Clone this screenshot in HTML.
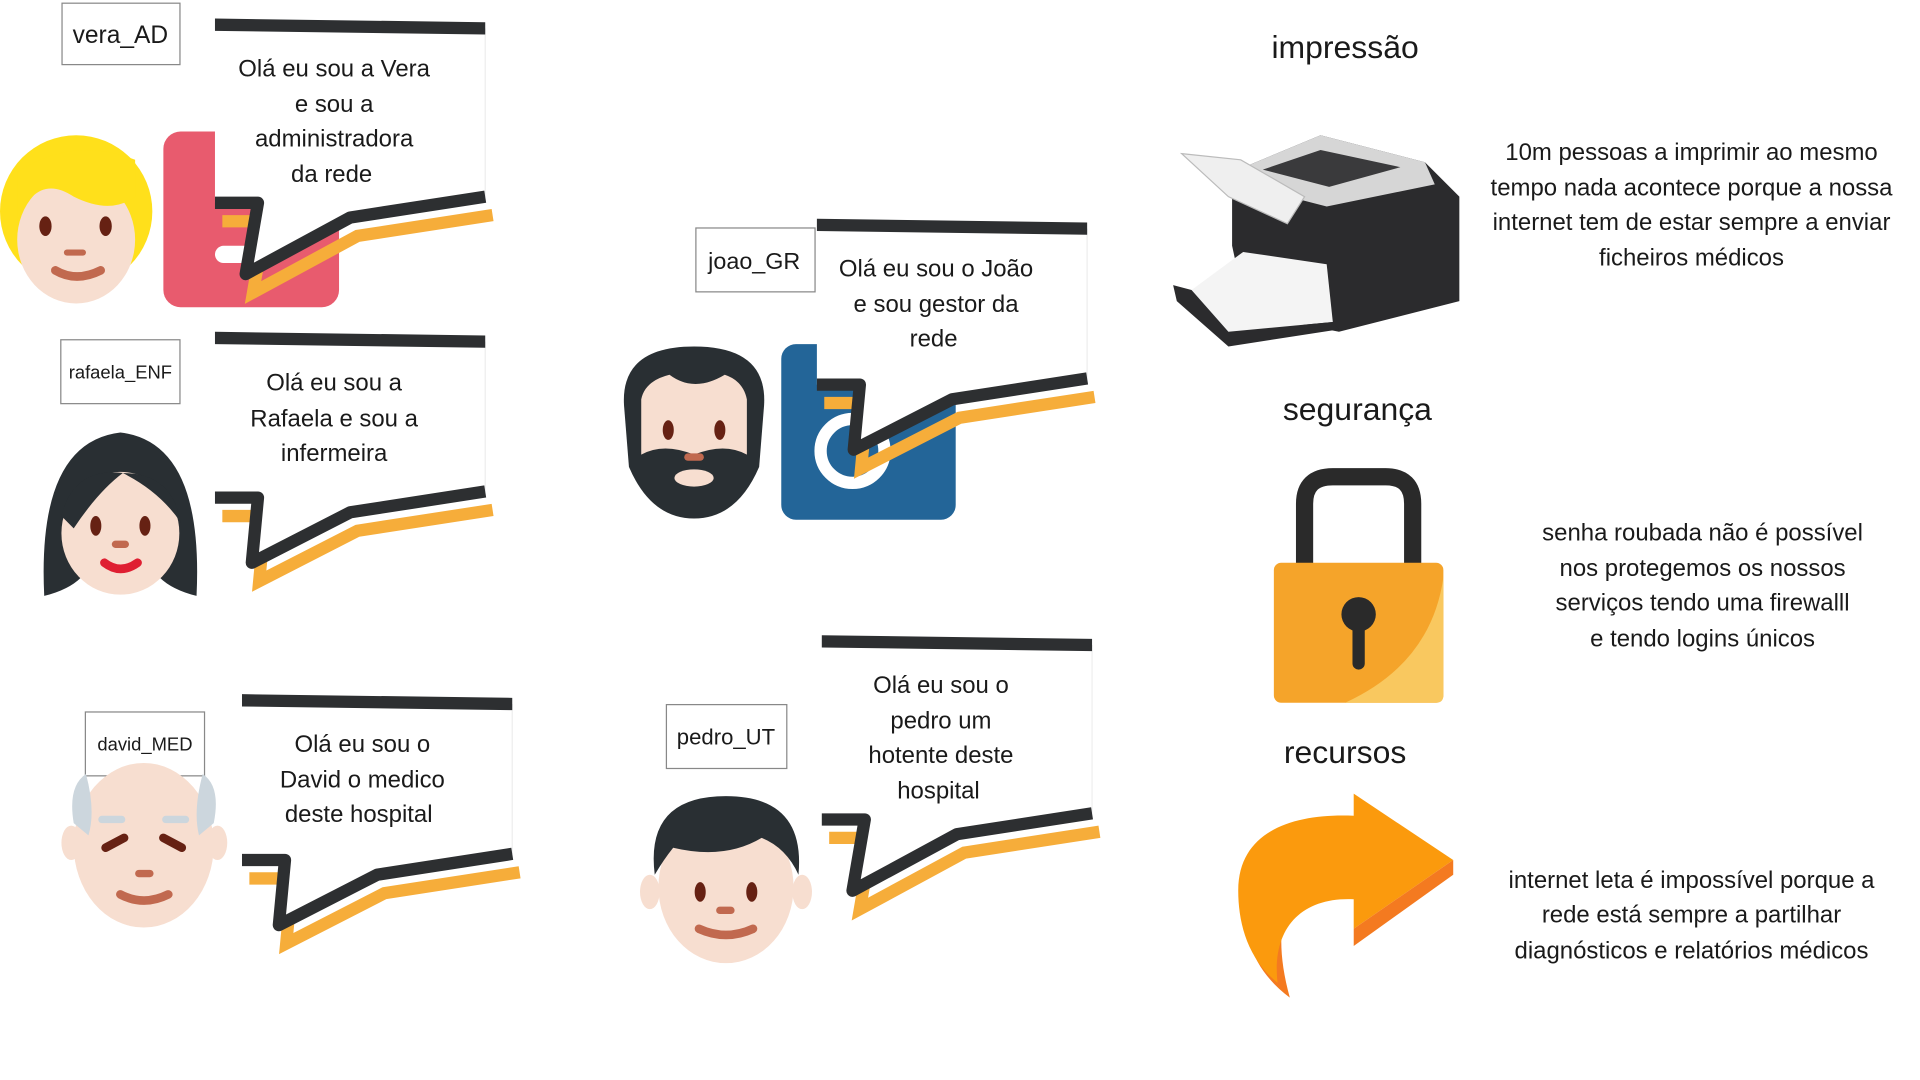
<!DOCTYPE html>
<html><head><meta charset="utf-8"><style>
html,body{margin:0;padding:0;background:#fff;width:1920px;height:1080px;overflow:hidden}
svg{display:block}
text{font-family:"Liberation Sans",sans-serif;fill:#1a1a1a}
</style></head><body>
<svg width="1920" height="1080" viewBox="0 0 1563 879" xmlns="http://www.w3.org/2000/svg">
<defs>
<g id="bub150">
  <polyline points="0,156 35,156 25,214 110,168 220,151" fill="none" stroke="#f6ad3a" stroke-width="10" transform="translate(6,9)"/>
  <polygon points="0,8 220,8 220,145 110,162 25,208 35,150 0,150" fill="#fff"/>
  <line x1="220" y1="8" x2="220" y2="145" stroke="#eee" stroke-width="1"/>
  <polyline points="0,150 35,150 25,208 110,162 220,145" fill="none" stroke="#2d2f31" stroke-width="10" stroke-linejoin="round"/>
  <polygon points="0,0 220,3 220,13 0,10" fill="#2d2f31"/>
</g>
<g id="bub135">
  <polyline points="0,141 35,141 30,194 110,153 220,136" fill="none" stroke="#f6ad3a" stroke-width="10" transform="translate(6,9)"/>
  <polygon points="0,8 220,8 220,130 110,147 30,188 35,135 0,135" fill="#fff"/>
  <line x1="220" y1="8" x2="220" y2="130" stroke="#eee" stroke-width="1"/>
  <polyline points="0,135 35,135 30,188 110,147 220,130" fill="none" stroke="#2d2f31" stroke-width="10" stroke-linejoin="round"/>
  <polygon points="0,0 220,3 220,13 0,10" fill="#2d2f31"/>
</g>
</defs>

<!-- labels -->
<rect x="50.5" y="2.5" width="96" height="50" fill="#fff" stroke="#888"/>
<text x="98" y="35" font-size="20" text-anchor="middle">vera_AD</text>
<rect x="49.5" y="276.5" width="97" height="52" fill="#fff" stroke="#888"/>
<text x="98" y="308" font-size="15" text-anchor="middle">rafaela_ENF</text>
<rect x="566.5" y="185.5" width="97" height="52" fill="#fff" stroke="#888"/>
<text x="614" y="219" font-size="19" text-anchor="middle">joao_GR</text>
<rect x="69.5" y="579.5" width="97" height="52" fill="#fff" stroke="#888"/>
<text x="118" y="611" font-size="15" text-anchor="middle">david_MED</text>
<rect x="542.5" y="573.5" width="98" height="52" fill="#fff" stroke="#888"/>
<text x="591" y="606" font-size="18" text-anchor="middle">pedro_UT</text>

<!-- icons -->
<rect x="133" y="107" width="143" height="143" rx="14" fill="#e85b6e"/>
<rect x="175" y="200" width="40" height="14" rx="7" fill="#fff"/>
<rect x="636" y="280" width="142" height="143" rx="12" fill="#236598"/>
<circle cx="694" cy="367" r="26" fill="none" stroke="#fff" stroke-width="10"/>

<!-- vera -->
<ellipse cx="62" cy="172" rx="62" ry="62" fill="#ffe01b"/>
<ellipse cx="62" cy="195" rx="48" ry="52" fill="#f7ded0"/>
<path d="M14,180 Q30,140 60,160 Q90,175 110,160 L110,130 Q60,110 14,140Z" fill="#ffe01b"/>
<ellipse cx="37" cy="184" rx="5" ry="8" fill="#662113"/><ellipse cx="86" cy="184" rx="5" ry="8" fill="#662113"/>
<rect x="52" y="203" width="18" height="5" rx="2.5" fill="#c1694f"/>
<path d="M45,220 Q62,230 82,220" stroke="#c1694f" stroke-width="7" fill="none" stroke-linecap="round"/>
<!-- rafaela -->
<path d="M36,485 Q30,360 98,352 Q166,360 160,485 Q140,480 130,470 L66,470 Q56,480 36,485Z" fill="#292f33"/>
<ellipse cx="98" cy="434" rx="48" ry="50" fill="#f7ded0"/>
<path d="M50,420 Q60,380 100,385 Q80,400 60,430Z M100,385 Q140,385 147,425 Q130,400 100,385Z" fill="#292f33"/>
<ellipse cx="78" cy="428" rx="4.5" ry="8" fill="#662113"/><ellipse cx="118" cy="428" rx="4.5" ry="8" fill="#662113"/>
<rect x="91" y="440" width="14" height="6" rx="3" fill="#c1694f"/>
<path d="M85,458 Q98,468 112,458" stroke="#df1f32" stroke-width="7" fill="none" stroke-linecap="round"/>
<!-- joao -->
<path d="M508,330 Q505,282 565,282 Q625,282 622,330 L618,380 Q600,422 565,422 Q530,422 512,380Z" fill="#292f33"/>
<path d="M522,325 Q525,310 545,305 Q565,320 590,305 Q605,310 608,325 L608,370 Q590,360 565,370 Q540,360 522,370Z" fill="#f7ded0"/>
<ellipse cx="565" cy="389" rx="16" ry="7" fill="#f7ded0"/>
<ellipse cx="544" cy="350" rx="4.5" ry="8" fill="#662113"/><ellipse cx="586" cy="350" rx="4.5" ry="8" fill="#662113"/>
<rect x="557" y="369" width="16" height="6" rx="3" fill="#c1694f"/>
<!-- david -->
<ellipse cx="117" cy="688" rx="57" ry="67" fill="#f7ded0"/>
<path d="M60,670 Q55,640 70,630 Q78,660 72,680Z M174,670 Q180,640 165,630 Q157,660 162,680Z" fill="#ccd6dd"/>
<ellipse cx="58" cy="686" rx="8" ry="14" fill="#f7ded0"/><ellipse cx="177" cy="686" rx="8" ry="14" fill="#f7ded0"/>
<rect x="80" y="664" width="22" height="6" rx="3" fill="#ccd6dd"/><rect x="132" y="664" width="22" height="6" rx="3" fill="#ccd6dd"/>
<path d="M86,690 L101,682" stroke="#662113" stroke-width="7" stroke-linecap="round"/><path d="M148,690 L133,682" stroke="#662113" stroke-width="7" stroke-linecap="round"/>
<rect x="110" y="708" width="15" height="6" rx="3" fill="#c1694f"/>
<path d="M98,728 Q117,738 137,728" stroke="#c1694f" stroke-width="7" fill="none" stroke-linecap="round"/>
<!-- pedro -->
<ellipse cx="591" cy="722" rx="55" ry="62" fill="#f7ded0"/>
<ellipse cx="529" cy="726" rx="8" ry="14" fill="#f7ded0"/><ellipse cx="653" cy="726" rx="8" ry="14" fill="#f7ded0"/>
<path d="M533,712 Q525,648 591,648 Q656,648 650,712 Q640,690 620,682 Q590,700 548,690 Q540,700 533,712Z" fill="#292f33"/>
<ellipse cx="570" cy="726" rx="4.5" ry="8" fill="#662113"/><ellipse cx="612" cy="726" rx="4.5" ry="8" fill="#662113"/>
<rect x="583" y="738" width="15" height="6" rx="3" fill="#c1694f"/>
<path d="M569,756 Q591,766 613,756" stroke="#c1694f" stroke-width="7" fill="none" stroke-linecap="round"/>

<!-- bubbles -->
<use href="#bub150" transform="translate(175,15)"/>
<use href="#bub135" transform="translate(175,270)"/>
<use href="#bub135" transform="translate(665,178)"/>
<use href="#bub135" transform="translate(197,565)"/>
<use href="#bub150" transform="translate(669,517)"/>

<g font-size="19.5" text-anchor="middle">
<text x="272" y="62">Olá eu sou a Vera</text><text x="272" y="91">e sou a</text><text x="272" y="119">administradora</text><text x="270" y="148">da rede</text>
<text x="272" y="318">Olá eu sou a</text><text x="272" y="347">Rafaela e sou a</text><text x="272" y="375">infermeira</text>
<text x="762" y="225">Olá eu sou o João</text><text x="762" y="254">e sou gestor da</text><text x="760" y="282">rede</text>
<text x="295" y="612">Olá eu sou o</text><text x="295" y="641">David o medico</text><text x="292" y="669">deste hospital</text>
<text x="766" y="564">Olá eu sou o</text><text x="766" y="593">pedro um</text><text x="766" y="621">hotente deste</text><text x="764" y="650">hospital</text>
</g>

<g font-size="26" text-anchor="middle">
<text x="1095" y="47">impressão</text>
<text x="1105" y="342">segurança</text>
<text x="1095" y="621">recursos</text>
</g>
<g font-size="19.5" text-anchor="middle">
<text x="1377" y="130">10m pessoas a imprimir ao mesmo</text>
<text x="1377" y="159">tempo nada acontece porque a nossa</text>
<text x="1377" y="187">internet tem de estar sempre a enviar</text>
<text x="1377" y="216">ficheiros médicos</text>
<text x="1386" y="440">senha roubada não é possível</text>
<text x="1386" y="469">nos protegemos os nossos</text>
<text x="1386" y="497">serviços tendo uma firewalll</text>
<text x="1386" y="526">e tendo logins únicos</text>
<text x="1377" y="723">internet leta é impossível porque a</text>
<text x="1377" y="751">rede está sempre a partilhar</text>
<text x="1377" y="780">diagnósticos e relatórios médicos</text>
</g>

<!-- printer -->
<polygon points="1003,140 1075,110 1160,132 1188,160 1188,245 1090,270 1015,255 1003,200" fill="#2b2b2d"/>
<polygon points="1003,140 1075,110 1160,132 1168,150 1080,168 1010,150" fill="#d6d6d6"/>
<polygon points="1028,138 1075,122 1140,136 1082,152" fill="#3a3a3c"/>
<polygon points="962,125 1010,130 1062,160 1048,182 1000,160" fill="#efefef" stroke="#bbb" stroke-width="1"/>
<polygon points="1012,205 1080,215 1085,262 1000,270 970,236" fill="#f4f4f4"/>
<polygon points="955,232 970,236 1000,270 1085,262 1090,268 1000,282 958,245" fill="#2b2b2d"/>

<!-- lock -->
<path d="M1062,460 L1062,410 Q1062,388 1085,388 L1128,388 Q1150,388 1150,410 L1150,460" fill="none" stroke="#2a2a2a" stroke-width="14"/>
<rect x="1037" y="458" width="138" height="114" rx="6" fill="#f5a42a"/>
<path d="M1175,470 Q1165,540 1095,572 L1169,572 Q1175,572 1175,566Z" fill="#f9c85f"/>
<circle cx="1106" cy="500" r="14" fill="#2a2a2a"/>
<rect x="1101" y="505" width="10" height="40" rx="5" fill="#2a2a2a"/>

<!-- arrow -->
<path d="M1012,735 C1005,680 1050,668 1102,670 L1102,700 C1055,700 1030,740 1050,812 C1020,790 1012,760 1012,735Z" fill="#f47a20"/>
<path d="M1008,725 C1008,675 1055,662 1102,664 L1102,646 L1183,700 L1102,756 L1102,732 C1060,730 1035,755 1040,800 C1015,780 1008,750 1008,725Z" fill="#fb9a0d"/>
<path d="M1183,700 L1183,712 L1102,770 L1102,756Z" fill="#f47a20"/>
</svg>
</body></html>
